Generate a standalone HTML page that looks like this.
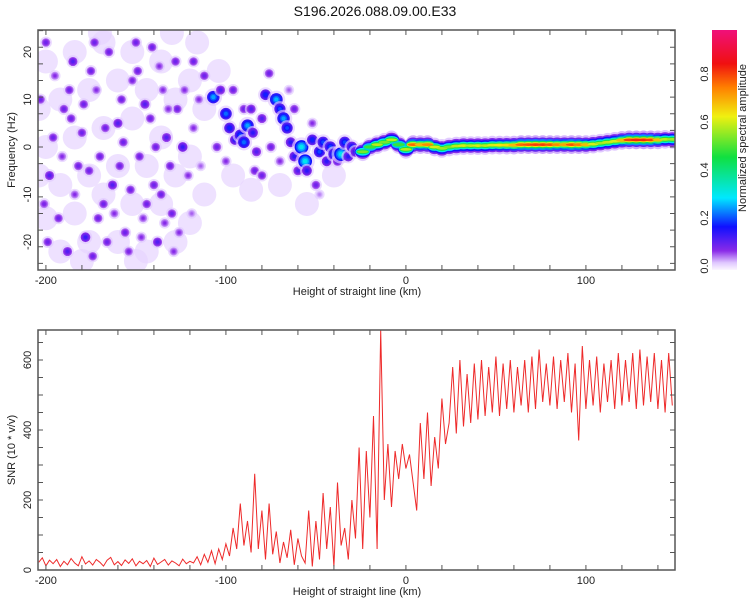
<!DOCTYPE html>
<html><head><meta charset="utf-8"><style>
html,body{margin:0;padding:0;background:#fff}
svg{display:block;font-family:"Liberation Sans",sans-serif}
</style></head><body>
<svg id="c" width="750" height="600" viewBox="0 0 750 600" xmlns="http://www.w3.org/2000/svg">
<defs>
<clipPath id="cpTop"><rect x="38" y="30" width="637" height="240"/></clipPath>
<clipPath id="cpBot"><rect x="38" y="330" width="637" height="240"/></clipPath>
<linearGradient id="cbar" x1="0" y1="1" x2="0" y2="0">
<stop offset="0" stop-color="#fbf6ff"/><stop offset="0.03" stop-color="#e0c8ff"/><stop offset="0.08" stop-color="#8a2be8"/>
<stop offset="0.18" stop-color="#1010ff"/><stop offset="0.3" stop-color="#00e8ff"/><stop offset="0.47" stop-color="#10e040"/>
<stop offset="0.64" stop-color="#f0f010"/><stop offset="0.76" stop-color="#ff8000"/><stop offset="0.86" stop-color="#f01010"/><stop offset="1" stop-color="#f0107a"/>
</linearGradient>
</defs>
<text x="375" y="16" text-anchor="middle" font-size="14" fill="#111">S196.2026.088.09.00.E33</text>
<g id="topPlot"></g>
<g id="botPlot"></g>
<g id="cbPlot"></g>
</svg>
<script>
const snrStart = -204;
const snrStep = 2;
const snrValues = [22,35,12,28,18,30,10,25,15,33,20,12,38,17,26,14,30,22,11,28,36,15,24,13,29,19,32,12,25,18,27,10,34,16,23,30,14,26,20,12,31,18,25,
20,38,15,45,22,55,18,60,30,75,
40,120,60,190,70,140,50,275,60,170,
30,190,45,110,20,80,35,115,15,90,
40,20,170,10,140,30,220,60,180,10,
250,70,120,30,200,90,350,60,340,150,
440,60,686,200,360,180,340,260,360,290,
330,250,170,420,260,450,240,380,290,490,
360,420,580,390,600,410,560,420,590,430,
600,440,580,450,610,440,590,460,600,450,
580,470,600,450,610,460,630,480,590,470,
610,460,600,480,620,450,590,370,640,460,
600,470,610,450,590,480,600,460,620,470,
600,480,620,460,630,470,610,480,620,460,
600,450,620,470];
const xTicks = [-200,-100,0,100];
const freqTicks = [-20,-10,0,10,20];
const snrTicks = [0,200,400,600];
const cbTicks = [0,0.2,0.4,0.6,0.8];
const ridgeX = [-24,-20,-16,-12,-8,-4,0,4,8,12,16,20,24,28,32,36,40,44,48,52,56,60,64,68,72,76,80,84,88,92,96,100,104,108,112,116,120,124,128,132,136,140,144,148];
const ridgeF = [-1,0,0.5,1,1.5,0.5,-0.5,0.5,0.5,0.5,0,-0.3,0,0.2,0.3,0.3,0.3,0.3,0.4,0.4,0.4,0.4,0.5,0.5,0.5,0.5,0.5,0.5,0.5,0.5,0.5,0.5,0.6,0.8,1.0,1.2,1.4,1.5,1.5,1.5,1.5,1.5,1.6,1.6];
const ridgeA = [0.55,0.5,0.6,0.55,0.6,0.5,0.6,0.78,0.7,0.75,0.62,0.58,0.55,0.6,0.62,0.6,0.62,0.6,0.62,0.65,0.66,0.7,0.78,0.8,0.82,0.82,0.8,0.75,0.72,0.8,0.76,0.7,0.62,0.58,0.6,0.62,0.7,0.82,0.84,0.84,0.82,0.7,0.6,0.58];
const blobX = [-107,-103,-100,-98,-95,-92,-90,-88,-85,-83,-80,-78,-76,-72,-70,-68,-66,-64,-62,-60,-58,-56,-55,-50,-52,-48,-46,-44,-42,-40,-38,-36,-34,-32,-30,-28,-84,-80,-112,-115,-118,-96,-90,-105,-62,-70,-75,-86,-100,-65,-48,-52,
-200,-195,-190,-185,-180,-176,-172,-168,-165,-160,-156,-152,-148,-145,-140,-137,-133,-130,-127,-124,-121,-118,-198,-193,-188,-184,-178,-174,-170,-163,-158,-154,-150,-146,-142,-138,-135,-131,-128,-126,-203,-201,-196,-191,-187,-182,-179,-175,-171,-167,-162,-157,-153,-149,-144,-141,-136,-132,-129,-123,-119,-114,-199,-186,-173,-166,-159,-147,-139,-134];
const blobF = [10.5,12,7,4,1.5,2.5,1,4.5,3,-1,6,11,15.5,10,8,6,4,1,-2,-5,0,-3,-5,-8,1.5,-1,1,-3,0,-1.5,-3,-1.5,1,-2,0,-1,-5,-6,15,10,18,12,8,0,8,-3,0,8,-3,12,-10,5,
22,15,8,18,3,-5,12,-12,20,5,-18,14,-2,9,-8,17,2,-14,8,0,-6,4,-6,-15,-22,-10,-19,-23,-2,-8,10,-22,22,-15,6,-20,12,-4,18,-18,10,-12,2,-2,12,-4,9,16,-15,4,-14,1,-9,16,-12,21,-10,8,-22,12,-14,-4,-20,6,22,-20,-4,-19,0,-16];
const blobA = [0.25,0.12,0.22,0.18,0.15,0.2,0.22,0.25,0.15,0.12,0.12,0.18,0.1,0.26,0.2,0.25,0.2,0.15,0.15,0.12,0.3,0.3,0.15,0.1,0.18,0.2,0.2,0.15,0.2,0.2,0.12,0.3,0.2,0.15,0.18,0.15,0.1,0.1,0.1,0.08,0.1,0.1,0.1,0.1,0.1,0.08,0.1,0.12,0.08,0.06,0.05,0.08,
0.1,0.08,0.1,0.12,0.1,0.1,0.08,0.1,0.1,0.12,0.1,0.09,0.1,0.12,0.1,0.08,0.12,0.1,0.1,0.14,0.08,0.08,0.12,0.1,0.12,0.08,0.14,0.1,0.1,0.12,0.1,0.09,0.1,0.08,0.1,0.12,0.08,0.1,0.1,0.08,0.1,0.09,0.1,0.08,0.1,0.1,0.1,0.1,0.1,0.1,0.08,0.1,0.1,0.1,0.1,0.1,0.1,0.08,0.08,0.08,0.06,0.06,0.1,0.1,0.1,0.1,0.1,0.08,0.1,0.08];
const hazeX = [-200,-200,-200,-192,-192,-192,-184,-184,-184,-176,-176,-176,-168,-168,-168,-160,-160,-160,-152,-152,-152,-144,-144,-144,-136,-136,-136,-128,-128,-128,-120,-120,-120,-112,-112,-104,-96,-86,-70,-55,-40,-204,-204,-180,-150,-130,-170,-116];
const hazeF = [18,0,-15,10,-8,-22,20,2,-14,12,-6,-20,22,4,-10,14,-4,-20,20,6,-12,12,-4,-22,18,2,-12,10,-6,-20,14,-2,-16,8,-10,16,-6,-9,-8,-12,-6,8,-6,-24,-24,24,24,22];

const NS = 'http://www.w3.org/2000/svg';
function mk(tag, attrs, parent){const e=document.createElementNS(NS,tag);for(const k in attrs)e.setAttribute(k,attrs[k]);parent.appendChild(e);return e;}
const xs = v => 38 + (v + 204.4) * 1.8;
const yf = v => 147 - v * 4.75;
const ys = v => 570 - v * 0.35;
const stops = [[0,[251,246,255]],[0.03,[224,200,255]],[0.08,[138,43,232]],[0.18,[16,16,255]],[0.3,[0,232,255]],[0.47,[16,224,64]],[0.64,[240,240,16]],[0.76,[255,128,0]],[0.86,[240,16,16]],[1,[240,16,122]]];
function cmap(v){v=Math.max(0,Math.min(1,v));for(let i=1;i<stops.length;i++){if(v<=stops[i][0]){const a=stops[i-1],b=stops[i];const t=(v-a[0])/(b[0]-a[0]);const c=a[1].map((x,j)=>Math.round(x+(b[1][j]-x)*t));return `rgb(${c[0]},${c[1]},${c[2]})`;}}return 'rgb(240,16,122)';}

function frame(g, y0, yTickVals, yfun, minorStep, yMin, yMax){
  for(let v=-200; v<=140; v+=20){
    const x=xs(v);
    const t1=mk('line',{x1:x,y1:y0,x2:x,y2:y0+5,stroke:'#555','stroke-width':1},g);
    
    
    const t2=mk('line',{x1:x,y1:y0+240,x2:x,y2:y0+235,stroke:'#555','stroke-width':1},g);
    
    
  }
  for(let v=yMin; v<=yMax; v+=minorStep){
    const y=yfun(v); if(y<y0||y>y0+240) continue;
    mk('line',{x1:38,y1:y,x2:43,y2:y,stroke:'#555'},g);
    mk('line',{x1:675,y1:y,x2:670,y2:y,stroke:'#555'},g);
  }
  const r=mk('rect',{x:38,y:y0,width:637,height:240,fill:'none',stroke:'#555','stroke-width':1.5},g);
  
  
  xTicks.forEach(v=>{
    const t=mk('text',{x:xs(v),y:y0+254,'text-anchor':'middle','font-size':11,fill:'#222'},g);
    t.textContent=v;
    
    
  });
  yTickVals.forEach(v=>{
    const y=yfun(v);
    const t=mk('text',{x:0,y:0,transform:`translate(31,${y}) rotate(-90)`,'text-anchor':'middle','font-size':11,fill:'#222'},g);
    t.textContent=v;
    
    
  });
  const xl=mk('text',{x:357,y:y0+265,'text-anchor':'middle','font-size':11,fill:'#222'},g);
  xl.textContent='Height of straight line (km)';
  
  
}

const topG=document.getElementById('topPlot');
const tg=mk('g',{'clip-path':'url(#cpTop)'},topG);
hazeX.forEach((x,i)=>{
  const c=mk('circle',{cx:xs(x),cy:yf(hazeF[i]),r:12,fill:cmap(0.022),opacity:0.7},tg);
  
  
});
blobX.forEach((x,i)=>{
  const a=blobA[i], R=3+a*13;
  const h=mk('circle',{cx:xs(x),cy:yf(blobF[i]),r:R*1.4,fill:cmap(0.03),opacity:0.65},tg);
  
  
  for(let k=0;k<4;k++){
    const c=mk('circle',{cx:xs(x),cy:yf(blobF[i]),r:R*(1-k/4.5),fill:cmap(a*(0.6+k*0.15))},tg);
    
    
  }
});
const ridgeLevels=[[17,0.05],[13,0.14],[10,0.3],[7,0.55],[4.5,0.8],[2.5,1]];
ridgeLevels.forEach(([ry,f])=>{
  ridgeX.forEach((x,i)=>{
    const e=mk('ellipse',{cx:xs(x),cy:yf(ridgeF[i]),rx:ry>12?8:5+ry*0.3,ry:ry*0.55,fill:cmap(ridgeA[i]*f)},tg);
    
    
  });
});
frame(topG,30,freqTicks,yf,3.5,-24.5,24.5);
const yl1=mk('text',{transform:'translate(15,150) rotate(-90)','text-anchor':'middle','font-size':11,fill:'#222'},topG);
yl1.textContent='Frequency (Hz)';



const botG=document.getElementById('botPlot');
const bg=mk('g',{'clip-path':'url(#cpBot)'},botG);
const pts=snrValues.map((v,i)=>`${xs(snrStart+i*snrStep).toFixed(1)},${ys(v).toFixed(1)}`).join(' ');
const pl=mk('polyline',{points:pts,fill:'none',stroke:'#ee2a2a','stroke-width':1},bg);


frame(botG,330,snrTicks,ys,50,0,700);
const yl2=mk('text',{transform:'translate(15,450) rotate(-90)','text-anchor':'middle','font-size':11,fill:'#222'},botG);
yl2.textContent='SNR (10 * v/v)';



const cbG=document.getElementById('cbPlot');
const cbY=v=>266-v*240;
const cr=mk('rect',{x:712,y:30,width:25,height:240,fill:'url(#cbar)'},cbG);


cbTicks.forEach(v=>{
  const t=mk('text',{transform:`translate(708,${cbY(v)}) rotate(-90)`,'text-anchor':'middle','font-size':11,fill:'#222'},cbG);
  t.textContent=v.toFixed(1);
  
  
});
const cl=mk('text',{transform:'translate(746,138) rotate(-90)','text-anchor':'middle','font-size':11,fill:'#222'},cbG);
cl.textContent='Normalized spectral amplitude';


</script>
</body></html>
